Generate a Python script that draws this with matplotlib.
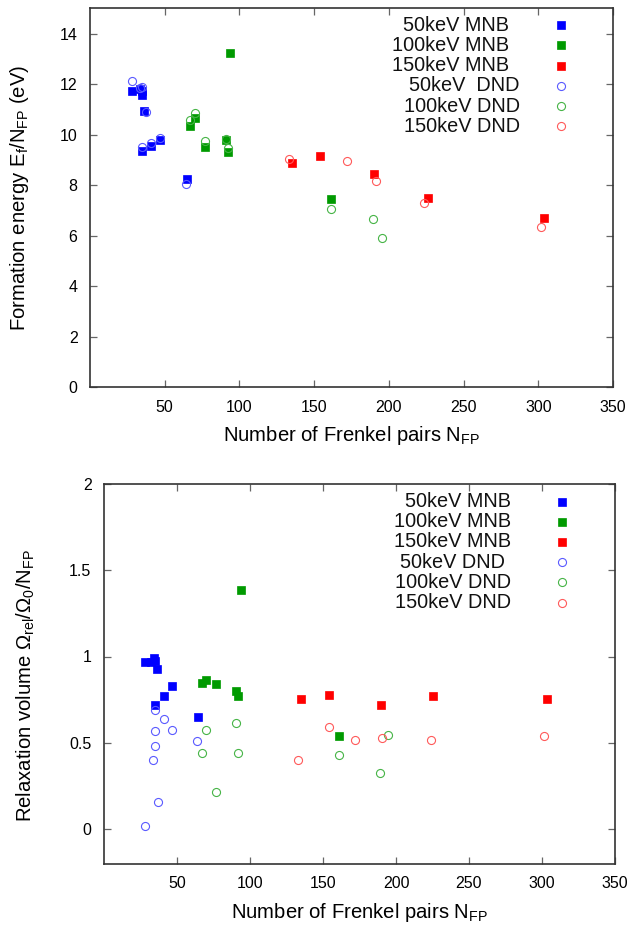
import matplotlib
matplotlib.use("Agg")
import matplotlib.pyplot as plt

plt.rcParams['font.family'] = ['Liberation Sans', 'DejaVu Sans']
plt.rcParams['mathtext.fontset'] = 'custom'
plt.rcParams['mathtext.rm'] = 'Liberation Sans'
plt.rcParams['mathtext.it'] = 'Liberation Sans'

# ---------------- data: formation energy (top) ----------------
mnb50_n_E = [28.3, 33.3, 35.1, 35.1, 36.0, 35.1, 41.1, 47.1, 65.1]
mnb50_E = [11.72, 11.82, 11.72, 11.56, 10.93, 9.33, 9.54, 9.79, 8.22]
mnb100_n_E = [94.0, 70.3, 67.1, 77.1, 90.9, 92.2, 161.2]
mnb100_E = [13.21, 10.64, 10.32, 9.50, 9.79, 9.29, 7.43]
mnb150_n_E = [135.1, 154.0, 190.0, 226.0, 303.8]
mnb150_E = [8.88, 9.14, 8.45, 7.49, 6.68]
dnd50_n_E = [28.3, 33.3, 35.1, 37.3, 35.1, 41.1, 47.1, 64.0]
dnd50_E = [12.11, 11.85, 11.89, 10.90, 9.50, 9.67, 9.87, 8.06]
dnd100_n_E = [70.3, 67.1, 77.1, 90.9, 92.2, 161.1, 189.1, 195.1]
dnd100_E = [10.87, 10.56, 9.74, 9.83, 9.46, 7.05, 6.66, 5.90]
dnd150_n_E = [133.1, 172.0, 191.1, 223.8, 302.0]
dnd150_E = [9.05, 8.96, 8.17, 7.30, 6.35]

# ---------------- data: relaxation volume (bottom) ----------------
mnb50_n_V = [27.9, 32.5, 34.0, 35.2, 36.3, 35.2, 41.1, 46.8, 64.7]
mnb50_V = [0.970, 0.966, 0.993, 0.974, 0.929, 0.718, 0.770, 0.831, 0.648]
mnb100_n_V = [93.9, 67.0, 70.0, 76.8, 90.7, 91.8, 160.7]
mnb100_V = [1.386, 0.847, 0.866, 0.839, 0.800, 0.770, 0.537]
mnb150_n_V = [134.8, 153.9, 189.9, 225.5, 303.3]
mnb150_V = [0.754, 0.777, 0.718, 0.770, 0.756]
dnd50_n_V = [35.2, 41.1, 35.2, 46.8, 35.2, 33.8, 37.0, 27.9, 63.8]
dnd50_V = [0.689, 0.639, 0.568, 0.575, 0.481, 0.398, 0.156, 0.019, 0.510]
dnd100_n_V = [70.0, 90.7, 67.0, 91.8, 76.8, 160.7, 188.7, 194.7]
dnd100_V = [0.573, 0.614, 0.442, 0.442, 0.217, 0.429, 0.325, 0.546]
dnd150_n_V = [132.7, 153.9, 171.8, 190.7, 223.7, 301.5]
dnd150_V = [0.402, 0.592, 0.514, 0.527, 0.514, 0.537]

labels_top = ["50keV MNB", "100keV MNB", "150keV MNB",
              "50keV  DND", "100keV DND", "150keV DND"]
labels_bot = ["50keV MNB", "100keV MNB", "150keV MNB",
              "50keV DND", "100keV DND", "150keV DND"]

xticks = [50, 100, 150, 200, 250, 300, 350]
yticks_top = [0, 2, 4, 6, 8, 10, 12, 14]
yticks_bot = [0, 0.5, 1, 1.5, 2]
yticklabels_bot = ["0", "0.5", "1", "1.5", "2"]

sq_colors = ['#0000ff', '#009a00', '#ff0000']
ci_colors = ['#5a5aff', '#46b446', '#ff5a5a']

fig = plt.figure(figsize=(6.34, 9.25), dpi=100)
ax1 = fig.add_axes([90/634, 1-387/925, 523/634, 378.7/925])
ax2 = fig.add_axes([104/634, 1-863.5/925, 511/634, 379.5/925])

def style(ax):
    for s in ax.spines.values():
        s.set_color('#333333')
        s.set_linewidth(1.2)
    ax.tick_params(direction='in', length=5, width=0.9, color='#666666',
                   top=True, right=True, labelsize=11.5, pad=9)

def draw(ax, sq, ci, labels, text_x, mark_x, rows_y):
    handles = []
    for (n, v), c in zip(sq, sq_colors):
        h, = ax.plot(n, v, ls='none', marker='s', ms=5.4, mfc=c, mec=c, mew=0.5)
        handles.append(h)
    for (n, v), c in zip(ci, ci_colors):
        h, = ax.plot(n, v, ls='none', marker='o', ms=5.8, mfc='none', mec=c, mew=0.8)
        handles.append(h)
    # gnuplot-style key: right-justified text, marker at right
    for h, lab, tx, ty in zip(handles, labels, text_x, rows_y):
        ax.text(tx, ty, lab, transform=ax.transAxes, ha='right', va='center',
                fontsize=14.3, color='#111111')
        ax.plot([mark_x], [ty], transform=ax.transAxes, ls='none',
                marker=h.get_marker(), ms=h.get_markersize(), mfc=h.get_markerfacecolor(),
                mec=h.get_markeredgecolor(), mew=h.get_markeredgewidth(), clip_on=False)

draw(ax1,
     [(mnb50_n_E, mnb50_E), (mnb100_n_E, mnb100_E), (mnb150_n_E, mnb150_E)],
     [(dnd50_n_E, dnd50_E), (dnd100_n_E, dnd100_E), (dnd150_n_E, dnd150_E)],
     labels_top,
     [0.8015, 0.8015, 0.8015, 0.822, 0.822, 0.822], 0.9006,
     [0.955, 0.903, 0.848, 0.795, 0.742, 0.689])
draw(ax2,
     [(mnb50_n_V, mnb50_V), (mnb100_n_V, mnb100_V), (mnb150_n_V, mnb150_V)],
     [(dnd50_n_V, dnd50_V), (dnd100_n_V, dnd100_V), (dnd150_n_V, dnd150_V)],
     labels_bot,
     [0.796, 0.796, 0.796, 0.785, 0.796, 0.796], 0.897,
     [0.953, 0.901, 0.848, 0.794, 0.741, 0.687])

for ax in (ax1, ax2):
    style(ax)
    ax.set_xlim(0, 350)
    ax.set_xticks(xticks)
    ax.set_xlabel(r'Number of Frenkel pairs N$_{\mathrm{FP}}$', fontsize=14.6, labelpad=7)

ax1.set_ylim(0, 15)
ax1.set_yticks(yticks_top)
ax1.set_ylabel(r'Formation energy E$_{\mathrm{f}}$/N$_{\mathrm{FP}}$ (eV)', fontsize=14.6)
ax1.yaxis.set_label_coords(-0.112, 0.5)

ax2.set_ylim(-0.2, 2)
ax2.set_yticks(yticks_bot)
ax2.set_yticklabels(yticklabels_bot)
ax2.set_ylabel(r'Relaxation volume $\Omega_{\mathrm{rel}}/\Omega_0$/N$_{\mathrm{FP}}$', fontsize=14.6)
ax2.yaxis.set_label_coords(-0.131, 0.47)

fig.savefig('out.png', dpi=100)
